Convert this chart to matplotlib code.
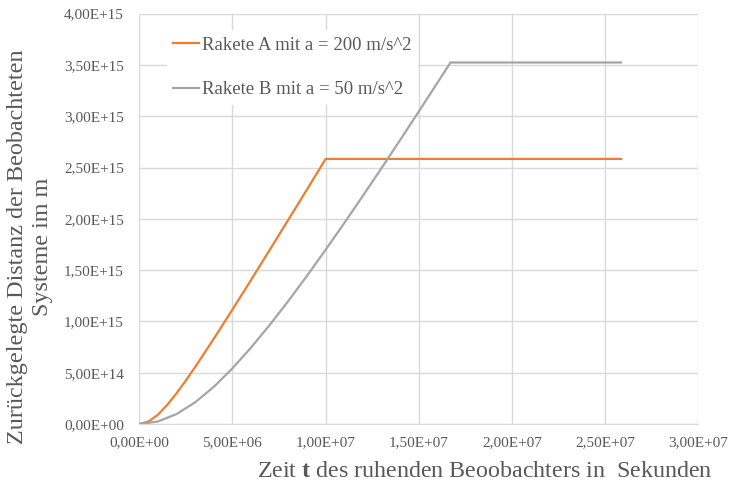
import matplotlib
matplotlib.use("Agg")
import matplotlib.pyplot as plt
from matplotlib.ticker import FuncFormatter, MultipleLocator

plt.rcParams['font.family'] = ['Liberation Serif', 'DejaVu Serif']
plt.rcParams['mathtext.fontset'] = 'custom'
plt.rcParams['mathtext.rm'] = 'Liberation Serif'
plt.rcParams['mathtext.bf'] = 'Liberation Serif:bold'

# Rakete A (a = 200 m/s^2)
t_a = [0, 0.5e6, 1e6, 1.5e6, 2e6, 2.5e6, 3e6, 4e6, 5e6, 6e6, 7e6, 8e6, 9e6, 1e7, 2.585e7]
d_a = [0, 2.43e13, 9.09e13, 1.864e14, 3.0e14, 4.247e14, 5.56e14, 8.32e14, 1.116e15,
       1.405e15, 1.698e15, 1.992e15, 2.287e15, 2.584e15, 2.584e15]

# Rakete B (a = 50 m/s^2)
t_b = [0, 1e6, 2e6, 3e6, 4e6, 5e6, 6e6, 7e6, 8e6, 9e6, 1e7, 1.1e7, 1.2e7, 1.3e7, 1.4e7,
       1.5e7, 1.6e7, 1.67e7, 2.585e7]
d_b = [0, 2.48e13, 9.74e13, 2.12e14, 3.63e14, 5.43e14, 7.46e14, 9.66e14, 1.2e15, 1.445e15,
       1.699e15, 1.959e15, 2.225e15, 2.495e15, 2.769e15, 3.047e15, 3.327e15, 3.524e15, 3.524e15]

label_a = "Rakete A mit a = 200 m/s^2"
label_b = "Rakete B mit a = 50 m/s^2"

fig = plt.figure(figsize=(7.39, 4.88), dpi=100)
ax = fig.add_axes([0.1885, 0.1311, 0.7565, 0.8409])

ax.plot(t_a, d_a, color='#ED7D31', lw=1.6, label=label_a, zorder=3)
ax.plot(t_b, d_b, color='#A5A5A5', lw=1.6, label=label_b, zorder=3)

ax.set_xlim(0, 3e7)
ax.set_ylim(0, 4e15)
ax.xaxis.set_major_locator(MultipleLocator(5e6))
ax.yaxis.set_major_locator(MultipleLocator(5e14))
fmt = FuncFormatter(lambda v, p: f"{v:.2E}".replace('.', ','))
ax.xaxis.set_major_formatter(fmt)
ax.yaxis.set_major_formatter(fmt)
ax.grid(True, color='#D9D9D9', lw=1.0, zorder=0)
ax.set_axisbelow(True)
for s in ['top', 'right', 'left']:
    ax.spines[s].set_visible(False)
ax.spines['bottom'].set_color('#D9D9D9')
ax.tick_params(length=0, labelsize=11, labelcolor='#595959')
ax.tick_params(axis='y', pad=11)
ax.tick_params(axis='x', pad=9)

fig.text(30 / 739, 1 - 247 / 488, "Zurückgelegte Distanz der Beobachteten\nSysteme im m",
         rotation=90, ha='center', va='center', multialignment='center',
         fontsize=17.4, color='#595959', linespacing=1.25)
fig.text(485 / 739, 1 - 477 / 488, r"Zeit $\mathbf{t}$ des ruhenden Beoobachters in  Sekunden",
         ha='center', va='baseline', fontsize=17.3, color='#595959')

leg = ax.legend(loc='upper left', bbox_to_anchor=(0.0487, 0.96), fontsize=13.5,
                frameon=True, facecolor='white', edgecolor='none', framealpha=1,
                handlelength=1.4, handletextpad=0.15, labelspacing=1.45, borderpad=0.35,
                borderaxespad=0)
for t in leg.get_texts():
    t.set_color('#595959')

fig.savefig('out.png', dpi=100)
